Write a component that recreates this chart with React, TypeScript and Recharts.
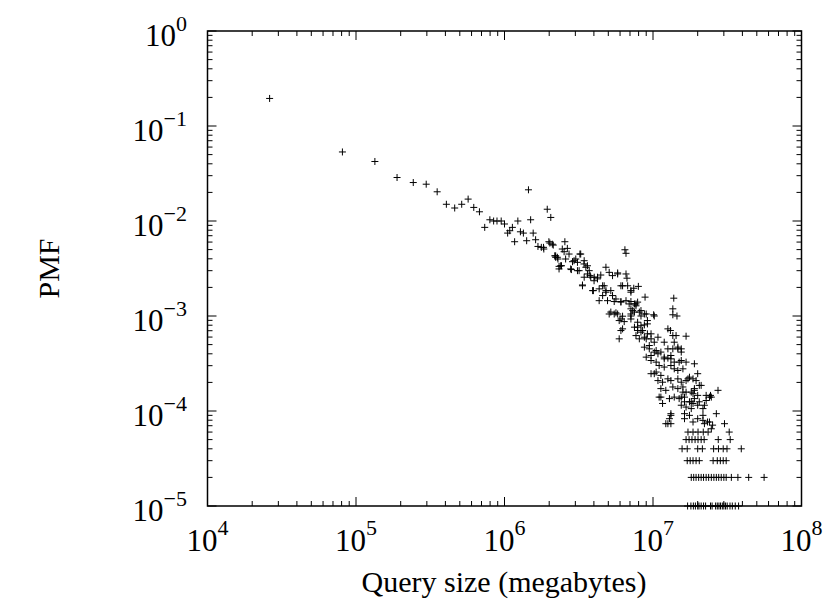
import { ScatterChart, Scatter, XAxis, YAxis, ReferenceArea } from "recharts";

// plot box in page pixels
const PLOT_LEFT = 207.5;
const PLOT_RIGHT = 801.5;
const PLOT_TOP = 31;
const PLOT_BOTTOM = 506;
const FONT = "'Liberation Serif', 'Times New Roman', serif";

const xTicks = [
  1e4, 2e4, 3e4, 4e4, 5e4, 6e4, 7e4, 8e4, 9e4,
  1e5, 2e5, 3e5, 4e5, 5e5, 6e5, 7e5, 8e5, 9e5,
  1e6, 2e6, 3e6, 4e6, 5e6, 6e6, 7e6, 8e6, 9e6,
  1e7, 2e7, 3e7, 4e7, 5e7, 6e7, 7e7, 8e7, 9e7, 1e8,
];
const yTicks = [
  1e-5, 2e-5, 3e-5, 4e-5, 5e-5, 6e-5, 7e-5, 8e-5, 9e-5,
  1e-4, 2e-4, 3e-4, 4e-4, 5e-4, 6e-4, 7e-4, 8e-4, 9e-4,
  1e-3, 2e-3, 3e-3, 4e-3, 5e-3, 6e-3, 7e-3, 8e-3, 9e-3,
  1e-2, 2e-2, 3e-2, 4e-2, 5e-2, 6e-2, 7e-2, 8e-2, 9e-2,
  1e-1, 2e-1, 3e-1, 4e-1, 5e-1, 6e-1, 7e-1, 8e-1, 9e-1, 1,
];
const xLabels: Record<number, string> = { 1e4: "4", 1e5: "5", 1e6: "6", 1e7: "7", 1e8: "8" };
const yLabels: Record<number, string> = {
  1e-5: "−5", 1e-4: "−4", 1e-3: "−3", 1e-2: "−2", 1e-1: "−1", 1: "0",
};

// [size, pmf]
const headPoints: [number, number][] = [
  [2.62e4, 0.195], [8.1e4, 0.0533], [1.34e5, 0.0423], [1.89e5, 0.0287],
  [2.43e5, 0.0254], [2.97e5, 0.0244], [3.52e5, 0.0203], [4.06e5, 0.015],
  [4.62e5, 0.0137], [5.15e5, 0.015], [5.69e5, 0.017], [6.21e5, 0.0139],
  [6.78e5, 0.0125], [7.36e5, 0.00857], [7.97e5, 0.0103], [8.45e5, 0.01],
  [8.9e5, 0.01], [9.5e5, 0.01], [1.0e6, 0.0093], [1.05e6, 0.00746],
  [1.085e6, 0.0079], [1.13e6, 0.00857], [1.17e6, 0.00605], [1.23e6, 0.01],
  [1.28e6, 0.0077], [1.34e6, 0.00746], [1.41e6, 0.0062], [1.45e6, 0.0213],
  [1.5e6, 0.0103], [1.56e6, 0.00746], [1.62e6, 0.00635], [1.68e6, 0.0054],
  [1.77e6, 0.00528], [1.84e6, 0.00507], [1.94e6, 0.0133], [1.99e6, 0.00605],
  [2.05e6, 0.0109], [2.1e6, 0.0057], [2.18e6, 0.0043], [2.27e6, 0.00415],
  [2.33e6, 0.00333],
];

const bandPoints: [number, number][] = [
  [1.83e6, 0.00528], [2.02e6, 0.00586], [2.13e6, 0.00558], [2.55e6, 0.00605],
  [2.45e6, 0.00507], [2.65e6, 0.00515], [2.72e6, 0.00449], [2.21e6, 0.0043],
  [2.29e6, 0.00398], [2.42e6, 0.00338], [2.33e6, 0.00313], [2.82e6, 0.00308],
  [2.94e6, 0.00382], [3.1e6, 0.00367], [3.22e6, 0.00449], [3.44e6, 0.00382],
  [3.62e6, 0.00338], [3.72e6, 0.003], [3.18e6, 0.003], [3.44e6, 0.00256],
  [3.77e6, 0.00266], [4.02e6, 0.00256], [4.23e6, 0.00246], [3.35e6, 0.00212],
  [3.92e6, 0.00185], [4.34e6, 0.00193], [4.58e6, 0.00208], [4.82e6, 0.00326],
  [5.07e6, 0.00288], [5.34e6, 0.00266], [5.78e6, 0.00284], [6.58e6, 0.00277],
  [6.68e6, 0.0025], [6.47e6, 0.00498], [6.58e6, 0.00457], [4.58e6, 0.00164],
  [4.82e6, 0.00178], [5.2e6, 0.00185], [4.34e6, 0.00145], [5.34e6, 0.00164],
  [5.63e6, 0.00151], [6.24e6, 0.00208], [6.75e6, 0.00208], [7.42e6, 0.00196],
  [7.97e6, 0.00205], [7.1e6, 0.00178], [8.84e6, 0.00158], [6.08e6, 0.00142],
  [6.58e6, 0.00145], [6.91e6, 0.00134], [7.5e6, 0.00134], [7.88e6, 0.0014],
  [5.2e6, 0.0011], [5.78e6, 0.00105], [6.24e6, 0.000995], [7.1e6, 0.00119],
  [7.5e6, 0.0011], [8.3e6, 0.001], [9.0e6, 0.00105], [5.92e6, 0.000895],
  [7.1e6, 0.00093], [7.88e6, 0.00086], [8.3e6, 0.00079], [9.17e6, 0.000826],
  [4.94e6, 0.00145], [5.48e6, 0.00142], [6.08e6, 0.0014], [7.1e6, 0.00142],
  [7.68e6, 0.00134], [5.07e6, 0.00105], [5.63e6, 0.00108], [6.08e6, 0.00093],
  [6.4e6, 0.000873], [7.1e6, 0.00105], [8.09e6, 0.0011], [8.75e6, 0.00105],
  [1.01e7, 0.00103], [1.36e7, 0.00119], [1.36e7, 0.00103], [1.45e7, 0.001],
  [1.38e7, 0.00154], [6.08e6, 0.000703], [6.24e6, 0.000732], [5.92e6, 0.000575],
  [7.5e6, 0.000763], [7.88e6, 0.000703], [8.3e6, 0.000676], [8.75e6, 0.000806],
  [7.68e6, 0.000622], [8.09e6, 0.000575], [8.75e6, 0.000598], [9.17e6, 0.000649],
  [9.7e6, 0.000575], [1.02e7, 0.00053], [1.19e7, 0.00053], [1.26e7, 0.000732],
  [1.31e7, 0.000703], [1.36e7, 0.000622], [1.43e7, 0.000622], [1.67e7, 0.000613],
];

const extraBandPoints: [number, number][] = [
  [2.21e6, 0.00415], [2.52e6, 0.00475], [2.39e6, 0.00338], [2.58e6, 0.00398],
  [2.87e6, 0.00373], [3.02e6, 0.00398], [3.26e6, 0.00449], [3.43e6, 0.00353],
  [3.53e6, 0.00326], [2.79e6, 0.00313], [3.1e6, 0.003], [3.35e6, 0.00208],
  [3.62e6, 0.00277], [3.81e6, 0.00256], [4.01e6, 0.00235], [4.23e6, 0.00256],
  [4.45e6, 0.0027], [3.97e6, 0.00185], [4.69e6, 0.00208], [4.82e6, 0.00185],
  [5.78e6, 0.00277], [6.08e6, 0.00208], [7.1e6, 0.00185], [5.48e6, 0.00105],
  [7.3e6, 0.00114], [7.68e6, 0.00128], [8.3e6, 0.00114], [7.1e6, 0.001],
  [7.88e6, 0.000763], [8.51e6, 0.000703], [9.17e6, 0.000895], [9.0e6, 0.000575],
  [9.7e6, 0.000649], [1.02e7, 0.001], [1.08e7, 0.000598], [9.44e6, 0.000489],
  [9.7e6, 0.000384], [1.05e7, 0.000433], [1.13e7, 0.000417], [1.19e7, 0.000354],
  [1.26e7, 0.000451], [1.32e7, 0.000384], [1.39e7, 0.00053], [1.47e7, 0.000451],
  [1.02e7, 0.000247], [1.32e7, 0.000209], [1.39e7, 0.000278], [1.5e7, 0.000327],
  [1.72e7, 0.000218], [1.86e7, 0.000218], [1.9e7, 0.000172], [2.0e7, 0.000146],
  [1.29e7, 0.000135], [1.32e7, 9.0e-5], [1.26e7, 7.35e-5], [1.63e7, 0.000125],
  [1.81e7, 0.000125], [1.81e7, 0.000106], [2.0e7, 0.000115], [2.22e7, 0.000115],
  [2.4e7, 0.00014], [2.17e7, 9.0e-5], [2.33e7, 7.66e-5], [2.52e7, 7.1e-5],
];

const tailPoints: [number, number][] = [
  [8.75e6, 0.00047], [9.44e6, 0.000451], [1.02e7, 0.000417], [1.08e7, 0.0004],
  [1.36e7, 0.000451], [1.47e7, 0.00047], [1.55e7, 0.000417], [1.55e7, 0.000451],
  [1.19e7, 0.000369], [1.26e7, 0.00036], [1.32e7, 0.000354], [9.0e6, 0.000369],
  [9.7e6, 0.00034], [1.05e7, 0.000327], [1.1e7, 0.000301], [1.19e7, 0.00029],
  [1.32e7, 0.000301], [9.7e6, 0.000247], [1.05e7, 0.000257], [1.13e7, 0.000237],
  [1.39e7, 0.000327], [1.55e7, 0.00034], [1.67e7, 0.000327], [1.9e7, 0.000314],
  [1.47e7, 0.000267], [1.59e7, 0.000278], [1.08e7, 0.000209], [1.16e7, 0.000201],
  [1.26e7, 0.000218], [1.47e7, 0.000218], [1.55e7, 0.000201], [1.67e7, 0.000209],
  [1.76e7, 0.000227], [2.0e7, 0.000247], [1.95e7, 0.000209], [1.13e7, 0.000172],
  [1.22e7, 0.000165], [1.36e7, 0.000179], [1.47e7, 0.000172], [1.59e7, 0.000179],
  [1.67e7, 0.000158], [1.86e7, 0.000152], [2.11e7, 0.000186], [2.05e7, 0.000186],
  [2.28e7, 0.000146], [2.44e7, 0.000146], [1.13e7, 0.00014], [1.55e7, 0.00014],
  [1.59e7, 0.000158], [1.81e7, 0.000158], [1.9e7, 0.000165], [1.1e7, 0.00014],
  [1.16e7, 0.00012], [1.39e7, 0.00014], [1.5e7, 0.000135], [1.63e7, 0.00014],
  [1.76e7, 0.000125], [1.9e7, 0.000135], [2.05e7, 0.000125], [2.28e7, 0.000129],
  [2.47e7, 0.00014], [2.74e7, 0.000165], [1.55e7, 0.000115], [1.67e7, 0.00011],
  [1.86e7, 0.00012], [2.17e7, 0.000106], [1.32e7, 9.37e-5], [1.29e7, 8.3e-5],
  [1.32e7, 7.35e-5], [1.22e7, 7.35e-5], [1.63e7, 9.37e-5], [1.76e7, 9e-5],
  [1.63e7, 8.3e-5], [1.86e7, 7.66e-5], [2.0e7, 8.3e-5], [2.17e7, 7.97e-5],
  [2.22e7, 7.35e-5], [2.4e7, 7.66e-5], [2.47e7, 6.5e-5], [2.67e7, 9.37e-5],
  [3.03e7, 7.35e-5],
];

// sizes seen at the discrete low PMF levels
const sizesAt1e5 = [1.71e7, 1.8e7, 1.87e7, 1.93e7, 2.0e7, 2.04e7, 2.11e7, 2.19e7, 2.26e7, 2.44e7, 2.5e7, 2.64e7, 2.71e7, 2.78e7, 2.85e7, 2.93e7, 3.0e7, 3.08e7, 3.16e7, 3.3e7, 3.42e7, 3.58e7, 3.77e7];
const sizesAt2e5 = [1.81e7, 1.88e7, 1.95e7, 2.03e7, 2.11e7, 2.19e7, 2.28e7, 2.37e7, 2.47e7, 2.57e7, 2.67e7, 2.77e7, 2.88e7, 3.0e7, 3.11e7, 3.37e7, 3.73e7, 4.41e7, 5.6e7];
const sizesAt3e5 = [1.7e7, 1.78e7, 1.86e7, 1.95e7, 2.05e7, 2.54e7, 2.71e7, 2.84e7, 2.97e7, 3.11e7];
const sizesAt4e5 = [1.57e7, 1.7e7, 2.0e7, 2.15e7, 2.56e7, 2.76e7, 2.97e7, 3.15e7, 3.93e7];
const sizesAt5e5 = [1.67e7, 1.75e7, 1.83e7, 1.92e7, 2.01e7, 2.11e7, 2.21e7, 2.75e7, 3.31e7];
const sizesAt6e5 = [1.72e7, 1.86e7, 2.01e7, 2.18e7, 2.35e7, 3.26e7];

const floorRows: [number, number[]][] = [
  [1e-5, sizesAt1e5],
  [2e-5, sizesAt2e5],
  [3e-5, sizesAt3e5],
  [4e-5, sizesAt4e5],
  [5e-5, sizesAt5e5],
  [6e-5, sizesAt6e5],
];

const data = [
  ...headPoints.map(([x, y]) => ({ x, y })),
  ...bandPoints.map(([x, y]) => ({ x, y })),
  ...extraBandPoints.map(([x, y]) => ({ x, y })),
  ...tailPoints.map(([x, y]) => ({ x, y })),
  ...floorRows.flatMap(([y, xs]) => xs.map((x) => ({ x, y }))),
];

function Plus(props: any) {
  const { cx, cy } = props;
  if (cx == null || cy == null) return null;
  return (
    <path
      d={`M${cx - 3.5},${cy}h7M${cx},${cy - 3.5}v7`}
      stroke="#000"
      strokeWidth={1}
      fill="none"
    />
  );
}

function XTick(props: any) {
  const { x, payload } = props;
  const label = xLabels[payload.value];
  const len = label ? 9 : 5;
  return (
    <g>
      <line x1={x} x2={x} y1={PLOT_BOTTOM} y2={PLOT_BOTTOM - len} stroke="#000" />
      <line x1={x} x2={x} y1={PLOT_TOP} y2={PLOT_TOP + len} stroke="#000" />
      {label && (
        <text x={x} y={551} textAnchor="middle" fontFamily={FONT} fontSize={31} fill="#000">
          <tspan>10</tspan>
          <tspan dy={-16} fontSize={22}>{label}</tspan>
        </text>
      )}
    </g>
  );
}

function YTick(props: any) {
  const { y, payload } = props;
  const label = yLabels[payload.value];
  const len = label ? 9 : 5;
  return (
    <g>
      <line x1={PLOT_LEFT} x2={PLOT_LEFT + len} y1={y} y2={y} stroke="#000" />
      <line x1={PLOT_RIGHT} x2={PLOT_RIGHT - len} y1={y} y2={y} stroke="#000" />
      {label && (
        <text x={187} y={y + 14.5} textAnchor="end" fontFamily={FONT} fontSize={31} fill="#000">
          <tspan>10</tspan>
          <tspan dy={-15} fontSize={22}>{label}</tspan>
        </text>
      )}
    </g>
  );
}

export default function App() {
  return (
    <div style={{ position: "absolute", left: 0, top: 0, background: "#fff" }}>
      <ScatterChart
        width={828}
        height={601}
        margin={{ top: PLOT_TOP, right: 828 - PLOT_RIGHT, bottom: 601 - PLOT_BOTTOM - 60, left: PLOT_LEFT - 100 }}
      >
        <XAxis
          type="number"
          dataKey="x"
          scale="log"
          domain={[1e4, 1e8]}
          ticks={xTicks}
          interval={0}
          height={60}
          axisLine={false}
          tickLine={false}
          tick={<XTick />}
        />
        <YAxis
          type="number"
          dataKey="y"
          scale="log"
          domain={[1e-5, 1]}
          ticks={yTicks}
          interval={0}
          width={100}
          axisLine={false}
          tickLine={false}
          tick={<YTick />}
        />
        <ReferenceArea x1={1e4} x2={1e8} y1={1e-5} y2={1} fill="none" stroke="#000" strokeWidth={1.5} />
        <Scatter data={data} shape={<Plus />} isAnimationActive={false} />
        <text x={504} y={592} textAnchor="middle" fontFamily={FONT} fontSize={30} fill="#000">
          Query size (megabytes)
        </text>
        <text
          x={48}
          y={268.5}
          transform="rotate(-90 48 268.5)"
          textAnchor="middle"
          dominantBaseline="central"
          fontFamily={FONT}
          fontSize={30}
          fill="#000"
        >
          PMF
        </text>
      </ScatterChart>
    </div>
  );
}
